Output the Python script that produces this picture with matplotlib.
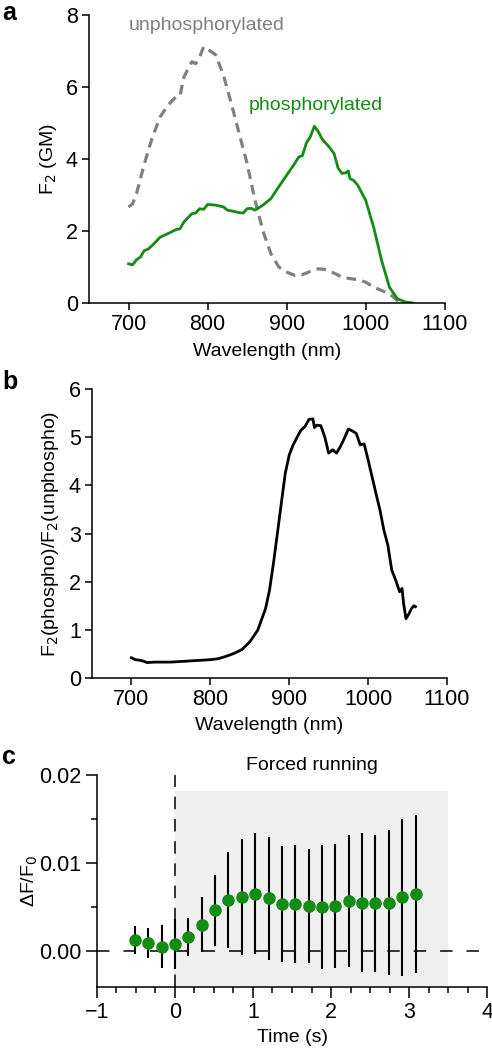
import matplotlib.pyplot as plt
from matplotlib.ticker import MultipleLocator

plt.rcParams["font.family"] = ["Liberation Sans", "DejaVu Sans"]
plt.rcParams["lines.scale_dashes"] = False

# panel a: two-photon brightness spectra
unphos_nm = [700, 705, 710, 720, 730, 740, 750, 760, 765, 770, 780, 785, 790, 795, 800, 810,
             820, 830, 840, 850, 860, 870, 880, 890, 900, 910, 920, 930, 940, 950, 960, 970,
             980, 990, 1000, 1010, 1020, 1030, 1040, 1045]
unphos_f2 = [2.67, 2.75, 3.04, 3.87, 4.6, 5.17, 5.5, 5.73, 5.75, 6.28, 6.7, 6.65, 6.84, 7.12, 7.05,
             6.9, 6.33, 5.54, 4.7, 3.87, 2.85, 2.0, 1.37, 1.0, 0.86, 0.77, 0.79, 0.88, 0.95,
             0.93, 0.83, 0.72, 0.68, 0.65, 0.58, 0.44, 0.35, 0.26, 0.07, 0.0]

phos_nm = [700, 705, 710, 715, 720, 725, 730, 740, 750, 760, 765, 770, 780, 785, 790, 795, 800,
           810, 820, 825, 830, 840, 845, 850, 855, 860, 870, 880, 890, 900, 910, 915, 920,
           925, 930, 935, 940, 945, 950, 955, 960, 965, 970, 975, 978, 980, 985, 990, 1000,
           1010, 1020, 1030, 1040, 1050, 1060]
phos_f2 = [1.09, 1.06, 1.2, 1.28, 1.46, 1.5, 1.6, 1.83, 1.93, 2.04, 2.06, 2.25, 2.48, 2.5, 2.62,
           2.6, 2.74, 2.72, 2.67, 2.58, 2.56, 2.51, 2.5, 2.62, 2.63, 2.58, 2.72, 2.9, 3.23,
           3.55, 3.87, 4.05, 4.1, 4.45, 4.62, 4.91, 4.76, 4.55, 4.43, 4.3, 4.15, 3.75, 3.6,
           3.62, 3.67, 3.46, 3.4, 3.27, 2.85, 2.11, 1.19, 0.44, 0.12, 0.03, 0.0]

# panel b: ratio spectrum
ratio_nm = [700, 705, 710, 715, 720, 730, 750, 770, 790, 800, 810, 820, 830, 840, 850, 860, 870,
            875, 880, 885, 890, 895, 900, 905, 910, 915, 920, 925, 930, 932, 935, 940, 945,
            950, 955, 960, 965, 970, 975, 980, 985, 990, 995, 1000, 1005, 1010, 1015, 1020,
            1025, 1030, 1035, 1040, 1043, 1045, 1048, 1052, 1055, 1058, 1060]
ratio = [0.42, 0.38, 0.37, 0.35, 0.32, 0.33, 0.33, 0.35, 0.37, 0.38, 0.4, 0.45, 0.51, 0.59,
         0.75, 0.99, 1.44, 1.82, 2.38, 3.0, 3.63, 4.25, 4.63, 4.84, 5.0, 5.15, 5.22, 5.37,
         5.38, 5.2, 5.25, 5.24, 5.01, 4.67, 4.74, 4.67, 4.81, 4.98, 5.17, 5.13, 5.08, 4.84,
         4.86, 4.53, 4.18, 3.83, 3.49, 3.07, 2.76, 2.24, 2.03, 1.79, 1.86, 1.55, 1.23, 1.34,
         1.44, 1.5, 1.48]

# panel c: dF/F0 during forced running
time_s = [-0.514, -0.343, -0.171, 0.0, 0.171, 0.343, 0.514, 0.685, 0.857, 1.028, 1.199,
          1.371, 1.542, 1.713, 1.885, 2.056, 2.227, 2.398, 2.57, 2.741, 2.912, 3.084]
dff = [0.0012, 0.0009, 0.0005, 0.0008, 0.0016, 0.003, 0.0046, 0.0058, 0.0061, 0.0065, 0.006,
       0.0053, 0.0053, 0.0051, 0.005, 0.0051, 0.0057, 0.0055, 0.0054, 0.0055, 0.0061, 0.0065]
dff_err = [0.0016, 0.0017, 0.0024, 0.0028, 0.0022, 0.0031, 0.004, 0.0055, 0.0066, 0.0069,
           0.007, 0.0066, 0.0067, 0.0065, 0.007, 0.007, 0.0075, 0.0079, 0.0078, 0.0082,
           0.0089, 0.009]
run_window = [0.0, 3.5]

GREEN = "#128c12"
TICK = 15.5
LAB = 14


def style(ax, major_len=5):
    for s in ("top", "right"):
        ax.spines[s].set_visible(False)
    for s in ("left", "bottom"):
        ax.spines[s].set_linewidth(1.1)
    ax.tick_params(width=1.1, length=major_len, labelsize=TICK, pad=3)


fig = plt.figure(figsize=(4.92, 10.5), dpi=100)

# a
ax = fig.add_axes([0.181, 0.7114, 0.723, 0.2743])
ax.plot(unphos_nm, unphos_f2, color="#808080", lw=2.3, dashes=(7, 4.5))
ax.plot(phos_nm, phos_f2, color=GREEN, lw=2.0)
ax.set_xlim(650, 1100)
ax.set_ylim(0, 8)
ax.set_xticks([700, 800, 900, 1000, 1100])
ax.set_yticks([0, 2, 4, 6, 8])
style(ax)
ax.text(700, 7.72, "unphosphorylated", color="#808080", fontsize=LAB, va="center")
ax.text(852, 5.5, "phosphorylated", color=GREEN, fontsize=LAB, va="center")
ax.set_ylabel("F$_2$ (GM)", fontsize=LAB)
ax.yaxis.set_label_coords(-0.115, 0.5)
ax.yaxis.label.set_va("center")
ax.set_xlabel("Wavelength (nm)", fontsize=LAB)
ax.xaxis.set_label_coords(0.5, -0.17)
ax.xaxis.label.set_va("center")

# b
ax = fig.add_axes([0.187, 0.3543, 0.7215, 0.2752])
ax.plot(ratio_nm, ratio, color="black", lw=2.0)
ax.set_xlim(650, 1100)
ax.set_ylim(0, 6)
ax.set_xticks([700, 800, 900, 1000, 1100])
ax.set_yticks(range(7))
style(ax)
ax.set_ylabel("F$_2$(phospho)/F$_2$(unphospho)", fontsize=LAB)
ax.yaxis.set_label_coords(-0.118, 0.5)
ax.yaxis.label.set_va("center")
ax.set_xlabel("Wavelength (nm)", fontsize=LAB)
ax.xaxis.set_label_coords(0.5, -0.163)
ax.xaxis.label.set_va("center")

# c
ax = fig.add_axes([0.197, 0.06, 0.793, 0.2019])
ax.set_xlim(-1, 4)
ax.set_ylim(-0.0041, 0.02)
ax.fill_between(run_window, -0.0041, 0.0182, color="#efefef", lw=0, zorder=0)
ax.axhline(0, color="black", lw=1.1, dashes=(9, 10), zorder=1)
ax.plot([0, 0], [-0.0041, 0.02], color="black", lw=1.1, dashes=(9, 7), zorder=1)
ax.errorbar(time_s, dff, yerr=dff_err, fmt="o", color=GREEN, ms=8, mec=GREEN,
            ecolor="black", elinewidth=1.5, capsize=0, zorder=3)
ax.set_xticks(range(-1, 5))
ax.set_xticklabels(["\u22121", "0", "1", "2", "3", "4"])
ax.set_yticks([0.0, 0.01, 0.02])
ax.set_yticklabels(["0.00", "0.01", "0.02"])
ax.xaxis.set_minor_locator(MultipleLocator(0.25))
ax.yaxis.set_minor_locator(MultipleLocator(0.005))
style(ax, major_len=8)
ax.tick_params(which="minor", width=1.1, length=4)
ax.text(1.76, 0.0211, "Forced running", fontsize=LAB, ha="center", va="center")
ax.set_ylabel("\u0394F/F$_0$", fontsize=LAB)
ax.yaxis.set_label_coords(-0.172, 0.5)
ax.yaxis.label.set_va("center")
ax.set_xlabel("Time (s)", fontsize=LAB)
ax.xaxis.set_label_coords(0.5, -0.24)
ax.xaxis.label.set_va("center")

# panel letters
for letter, y in (("a", 0.999), ("b", 0.648), ("c", 0.29)):
    fig.text(0.004, y, letter, fontsize=18, fontweight="bold", va="top")

fig.savefig("out.png", dpi=100)
